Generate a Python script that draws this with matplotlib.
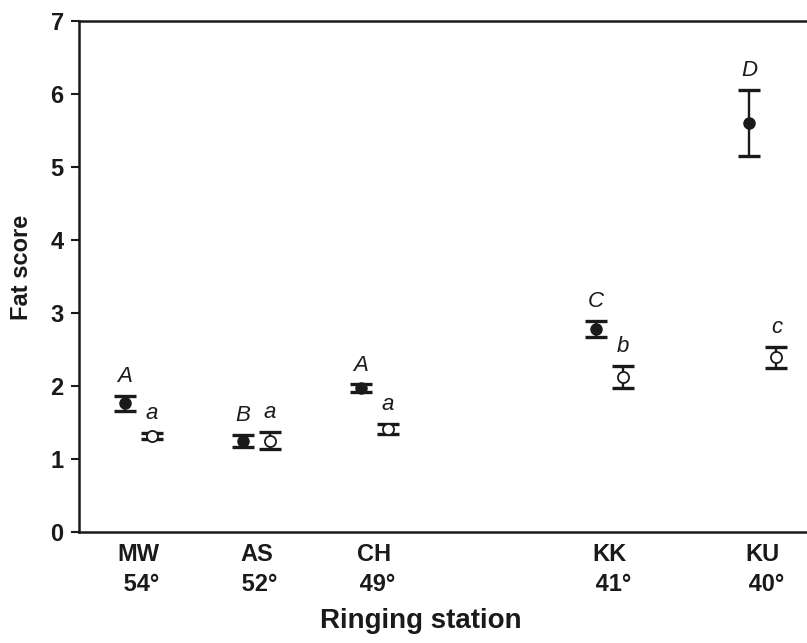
import matplotlib
matplotlib.use("Agg")
import matplotlib.pyplot as plt

plt.rcParams['font.family'] = ['Liberation Sans', 'DejaVu Sans']

stations = ["MW", "AS", "CH", "KK", "KU"]
latitudes = ["54°", "52°", "49°", "41°", "40°"]
positions = [1, 2, 3, 5, 6.3]

filled_mean = [1.76, 1.25, 1.97, 2.78, 5.60]
filled_err = [0.10, 0.08, 0.05, 0.11, 0.45]
open_mean = [1.31, 1.25, 1.41, 2.12, 2.39]
open_err = [0.04, 0.12, 0.07, 0.15, 0.14]
filled_letters = ["A", "B", "A", "C", "D"]
open_letters = ["a", "a", "a", "b", "c"]

W, H = 807, 643
fig = plt.figure(figsize=(W / 100, H / 100), dpi=100)
left_px, right_px, top_px, bot_px = 79, 807, 20.5, 532
ax = fig.add_axes([left_px / W, (H - bot_px) / H, (right_px - left_px) / W, (bot_px - top_px) / H])

off = 0.115
xf = [p - off for p in positions]
xo = [p + off for p in positions]

col = '#1a1a1a'
ekw = dict(fmt='none', ecolor=col, elinewidth=1.7, capsize=8, capthick=2.4, zorder=2)
ax.errorbar(xf, filled_mean, yerr=filled_err, **ekw)
ax.errorbar(xo, open_mean, yerr=open_err, **ekw)
ax.plot(xf, filled_mean, 'o', ms=8, mfc=col, mec=col, ls='none', zorder=3)
ax.plot(xo, open_mean, 'o', ms=8, mfc='white', mec=col, mew=1.3, ls='none', zorder=3)

for x, m, e, t in zip(xf, filled_mean, filled_err, filled_letters):
    ax.annotate(t, (x, m + e), xytext=(0, 10), textcoords='offset points',
                ha='center', va='baseline', fontsize=16, style='italic', color=col)
for x, m, e, t in zip(xo, open_mean, open_err, open_letters):
    ax.annotate(t, (x, m + e), xytext=(0, 10), textcoords='offset points',
                ha='center', va='baseline', fontsize=16, style='italic', color=col)

px_per_unit = 117.8
xl = positions[0] - (138.5 - left_px) / px_per_unit
xr = xl + (right_px - left_px) / px_per_unit
ax.set_xlim(xl, xr)
ax.set_ylim(0, 7)
ax.set_yticks(range(0, 8))
ax.set_xticks(positions)
ax.set_xticklabels([f"{s}\n {l}" for s, l in zip(stations, latitudes)],
                   fontsize=17, fontweight='bold', linespacing=1.4)
ax.tick_params(axis='x', length=0, pad=8, colors=col)
ax.tick_params(axis='y', length=6, width=1.5, pad=5, labelsize=17, colors=col)
for lbl in ax.get_yticklabels():
    lbl.set_fontweight('bold')

for s in ['left', 'bottom', 'top']:
    ax.spines[s].set_linewidth(1.8)
    ax.spines[s].set_color(col)
ax.spines['right'].set_visible(False)

ax.set_ylabel("Fat score", fontsize=17, fontweight='bold', color=col, va='center')
ax.yaxis.set_label_coords(-(79 - 22) / 728, (532 - 267) / 511.5)
ax.set_xlabel("Ringing station", fontsize=20, fontweight='bold', color=col, va='center')
ax.xaxis.set_label_coords((421 - 79) / 728, -(621 - 532) / 511.5)

fig.savefig("out.png", dpi=100)
